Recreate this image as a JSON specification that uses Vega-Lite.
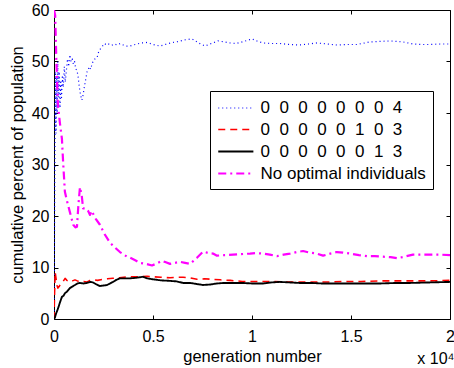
{
  "$schema": "https://vega.github.io/schema/vega-lite/v6.json",
  "width": 396,
  "height": 309,
  "autosize": {"type": "none"},
  "padding": {"left": 54, "top": 10, "right": 4, "bottom": 49},
  "background": "white",
  "config": {
    "font": "Liberation Sans",
    "view": {"stroke": "black", "strokeWidth": 1},
    "axis": {
      "domain": false,
      "grid": false,
      "tickColor": "black",
      "tickSize": -4,
      "tickWidth": 1,
      "labelColor": "black",
      "labelFont": "Liberation Sans",
      "labelFontSize": 16,
      "titleColor": "black",
      "titleFont": "Liberation Sans",
      "titleFontSize": 16.5,
      "titleFontWeight": "normal"
    }
  },
  "title": {
    "text": "x 10⁴",
    "orient": "bottom",
    "anchor": "end",
    "font": "Liberation Sans",
    "fontSize": 16,
    "fontWeight": "normal",
    "color": "black",
    "offset": -14
  },
  "data": {
    "values": [
      {"series": "B", "gen": 0, "pct": 0},
      {"series": "B", "gen": 20, "pct": 12},
      {"series": "B", "gen": 40, "pct": 28},
      {"series": "B", "gen": 60, "pct": 40},
      {"series": "B", "gen": 80, "pct": 48},
      {"series": "B", "gen": 100, "pct": 36},
      {"series": "B", "gen": 130, "pct": 47},
      {"series": "B", "gen": 160, "pct": 40},
      {"series": "B", "gen": 190, "pct": 50},
      {"series": "B", "gen": 220, "pct": 43},
      {"series": "B", "gen": 260, "pct": 48},
      {"series": "B", "gen": 300, "pct": 41},
      {"series": "B", "gen": 340, "pct": 46},
      {"series": "B", "gen": 380, "pct": 43},
      {"series": "B", "gen": 420, "pct": 47},
      {"series": "B", "gen": 470, "pct": 45},
      {"series": "B", "gen": 520, "pct": 49},
      {"series": "B", "gen": 570, "pct": 46},
      {"series": "B", "gen": 620, "pct": 48},
      {"series": "B", "gen": 680, "pct": 50.5},
      {"series": "B", "gen": 740, "pct": 49},
      {"series": "B", "gen": 800, "pct": 51.3},
      {"series": "B", "gen": 860, "pct": 50},
      {"series": "B", "gen": 920, "pct": 50.5},
      {"series": "B", "gen": 980, "pct": 49.5},
      {"series": "B", "gen": 1040, "pct": 50},
      {"series": "B", "gen": 1100, "pct": 48.5},
      {"series": "B", "gen": 1160, "pct": 48.3},
      {"series": "B", "gen": 1220, "pct": 47},
      {"series": "B", "gen": 1280, "pct": 45},
      {"series": "B", "gen": 1340, "pct": 43.5},
      {"series": "B", "gen": 1410, "pct": 42.5},
      {"series": "B", "gen": 1470, "pct": 43.5},
      {"series": "B", "gen": 1530, "pct": 45},
      {"series": "B", "gen": 1600, "pct": 46.5},
      {"series": "B", "gen": 1670, "pct": 48},
      {"series": "B", "gen": 1720, "pct": 48.3},
      {"series": "B", "gen": 1780, "pct": 49},
      {"series": "B", "gen": 1850, "pct": 48.5},
      {"series": "B", "gen": 1920, "pct": 49.5},
      {"series": "B", "gen": 2000, "pct": 50.3},
      {"series": "B", "gen": 2070, "pct": 50.5},
      {"series": "B", "gen": 2170, "pct": 50.7},
      {"series": "B", "gen": 2250, "pct": 51.8},
      {"series": "B", "gen": 2350, "pct": 52.5},
      {"series": "B", "gen": 2450, "pct": 53},
      {"series": "B", "gen": 2550, "pct": 53.5},
      {"series": "B", "gen": 2650, "pct": 53.2},
      {"series": "B", "gen": 2750, "pct": 53.4},
      {"series": "B", "gen": 2900, "pct": 53.1},
      {"series": "B", "gen": 3050, "pct": 53.4},
      {"series": "B", "gen": 3200, "pct": 53.2},
      {"series": "B", "gen": 3350, "pct": 53.5},
      {"series": "B", "gen": 3500, "pct": 53.2},
      {"series": "B", "gen": 3650, "pct": 53},
      {"series": "B", "gen": 3840, "pct": 53},
      {"series": "B", "gen": 4100, "pct": 53.3},
      {"series": "B", "gen": 4400, "pct": 53.6},
      {"series": "B", "gen": 4700, "pct": 53.7},
      {"series": "B", "gen": 5000, "pct": 53.3},
      {"series": "B", "gen": 5350, "pct": 53},
      {"series": "B", "gen": 5700, "pct": 53.4},
      {"series": "B", "gen": 6000, "pct": 53.7},
      {"series": "B", "gen": 6300, "pct": 53.9},
      {"series": "B", "gen": 6600, "pct": 54.2},
      {"series": "B", "gen": 6970, "pct": 54.4},
      {"series": "B", "gen": 7300, "pct": 53.6},
      {"series": "B", "gen": 7630, "pct": 53},
      {"series": "B", "gen": 7950, "pct": 53.5},
      {"series": "B", "gen": 8280, "pct": 54},
      {"series": "B", "gen": 8600, "pct": 53.8},
      {"series": "B", "gen": 8890, "pct": 53.6},
      {"series": "B", "gen": 9200, "pct": 53.5},
      {"series": "B", "gen": 9600, "pct": 53.9},
      {"series": "B", "gen": 10000, "pct": 54.4},
      {"series": "B", "gen": 10300, "pct": 53.9},
      {"series": "B", "gen": 10560, "pct": 53.6},
      {"series": "B", "gen": 11000, "pct": 53.5},
      {"series": "B", "gen": 11400, "pct": 53.5},
      {"series": "B", "gen": 11900, "pct": 53.3},
      {"series": "B", "gen": 12400, "pct": 53.2},
      {"series": "B", "gen": 12850, "pct": 53.4},
      {"series": "B", "gen": 13280, "pct": 53.6},
      {"series": "B", "gen": 13800, "pct": 53.4},
      {"series": "B", "gen": 14290, "pct": 53.2},
      {"series": "B", "gen": 14800, "pct": 53.3},
      {"series": "B", "gen": 15300, "pct": 53.3},
      {"series": "B", "gen": 15960, "pct": 53.8},
      {"series": "B", "gen": 16500, "pct": 53.9},
      {"series": "B", "gen": 16970, "pct": 54},
      {"series": "B", "gen": 17300, "pct": 53.9},
      {"series": "B", "gen": 17630, "pct": 53.8},
      {"series": "B", "gen": 18130, "pct": 53.4},
      {"series": "B", "gen": 18600, "pct": 53.3},
      {"series": "B", "gen": 18990, "pct": 53.3},
      {"series": "B", "gen": 19500, "pct": 53.4},
      {"series": "B", "gen": 20000, "pct": 53.4},

      {"series": "R", "gen": 0, "pct": 0},
      {"series": "R", "gen": 30, "pct": 5},
      {"series": "R", "gen": 60, "pct": 9.1},
      {"series": "R", "gen": 100, "pct": 8},
      {"series": "R", "gen": 150, "pct": 6.5},
      {"series": "R", "gen": 200, "pct": 6},
      {"series": "R", "gen": 260, "pct": 6.3},
      {"series": "R", "gen": 330, "pct": 6.8},
      {"series": "R", "gen": 450, "pct": 7.2},
      {"series": "R", "gen": 560, "pct": 7.9},
      {"series": "R", "gen": 650, "pct": 7.5},
      {"series": "R", "gen": 800, "pct": 7.2},
      {"series": "R", "gen": 930, "pct": 7.4},
      {"series": "R", "gen": 1060, "pct": 7.6},
      {"series": "R", "gen": 1180, "pct": 7.4},
      {"series": "R", "gen": 1310, "pct": 7.2},
      {"series": "R", "gen": 1500, "pct": 7.3},
      {"series": "R", "gen": 1670, "pct": 7.2},
      {"series": "R", "gen": 1820, "pct": 7.5},
      {"series": "R", "gen": 1970, "pct": 7.6},
      {"series": "R", "gen": 2200, "pct": 7.5},
      {"series": "R", "gen": 2470, "pct": 7.7},
      {"series": "R", "gen": 2700, "pct": 7.8},
      {"series": "R", "gen": 2980, "pct": 7.9},
      {"series": "R", "gen": 3300, "pct": 8},
      {"series": "R", "gen": 3690, "pct": 8.2},
      {"series": "R", "gen": 4000, "pct": 8.2},
      {"series": "R", "gen": 4340, "pct": 8.2},
      {"series": "R", "gen": 4700, "pct": 8.3},
      {"series": "R", "gen": 5000, "pct": 8.2},
      {"series": "R", "gen": 5400, "pct": 8.1},
      {"series": "R", "gen": 5860, "pct": 8},
      {"series": "R", "gen": 6200, "pct": 8.1},
      {"series": "R", "gen": 6520, "pct": 8.1},
      {"series": "R", "gen": 6870, "pct": 8},
      {"series": "R", "gen": 7220, "pct": 7.7},
      {"series": "R", "gen": 7600, "pct": 7.8},
      {"series": "R", "gen": 8030, "pct": 7.7},
      {"series": "R", "gen": 8400, "pct": 7.6},
      {"series": "R", "gen": 8900, "pct": 7.5},
      {"series": "R", "gen": 9500, "pct": 7.3},
      {"series": "R", "gen": 10200, "pct": 7.3},
      {"series": "R", "gen": 11000, "pct": 7.3},
      {"series": "R", "gen": 11800, "pct": 7.2},
      {"series": "R", "gen": 12500, "pct": 7.2},
      {"series": "R", "gen": 13300, "pct": 7.2},
      {"series": "R", "gen": 14000, "pct": 7.2},
      {"series": "R", "gen": 14800, "pct": 7.3},
      {"series": "R", "gen": 15500, "pct": 7.3},
      {"series": "R", "gen": 16500, "pct": 7.4},
      {"series": "R", "gen": 17300, "pct": 7.4},
      {"series": "R", "gen": 18200, "pct": 7.4},
      {"series": "R", "gen": 19000, "pct": 7.4},
      {"series": "R", "gen": 20000, "pct": 7.5},

      {"series": "K", "gen": 0, "pct": 0},
      {"series": "K", "gen": 50, "pct": 0.3},
      {"series": "K", "gen": 100, "pct": 1},
      {"series": "K", "gen": 200, "pct": 2},
      {"series": "K", "gen": 300, "pct": 3.2},
      {"series": "K", "gen": 400, "pct": 4.3},
      {"series": "K", "gen": 480, "pct": 4.5},
      {"series": "K", "gen": 550, "pct": 5},
      {"series": "K", "gen": 650, "pct": 5.3},
      {"series": "K", "gen": 800, "pct": 6},
      {"series": "K", "gen": 930, "pct": 6.3},
      {"series": "K", "gen": 1060, "pct": 6.6},
      {"series": "K", "gen": 1180, "pct": 6.9},
      {"series": "K", "gen": 1310, "pct": 7},
      {"series": "K", "gen": 1500, "pct": 6.9},
      {"series": "K", "gen": 1670, "pct": 7},
      {"series": "K", "gen": 1820, "pct": 7.2},
      {"series": "K", "gen": 1970, "pct": 7.1},
      {"series": "K", "gen": 2150, "pct": 6.7},
      {"series": "K", "gen": 2320, "pct": 6.4},
      {"series": "K", "gen": 2500, "pct": 6.5},
      {"series": "K", "gen": 2680, "pct": 6.6},
      {"series": "K", "gen": 2830, "pct": 6.9},
      {"series": "K", "gen": 2980, "pct": 7.2},
      {"series": "K", "gen": 3150, "pct": 7.6},
      {"series": "K", "gen": 3330, "pct": 7.9},
      {"series": "K", "gen": 3600, "pct": 7.9},
      {"series": "K", "gen": 3840, "pct": 7.9},
      {"series": "K", "gen": 4150, "pct": 8},
      {"series": "K", "gen": 4500, "pct": 8.2},
      {"series": "K", "gen": 4700, "pct": 7.9},
      {"series": "K", "gen": 5000, "pct": 7.7},
      {"series": "K", "gen": 5400, "pct": 7.5},
      {"series": "K", "gen": 5860, "pct": 7.4},
      {"series": "K", "gen": 6200, "pct": 7.3},
      {"series": "K", "gen": 6520, "pct": 7},
      {"series": "K", "gen": 6870, "pct": 7},
      {"series": "K", "gen": 7200, "pct": 6.8},
      {"series": "K", "gen": 7530, "pct": 6.6},
      {"series": "K", "gen": 7900, "pct": 6.7},
      {"series": "K", "gen": 8230, "pct": 6.9},
      {"series": "K", "gen": 8600, "pct": 7},
      {"series": "K", "gen": 9040, "pct": 7},
      {"series": "K", "gen": 9500, "pct": 7},
      {"series": "K", "gen": 10000, "pct": 6.9},
      {"series": "K", "gen": 10560, "pct": 6.9},
      {"series": "K", "gen": 11000, "pct": 7.1},
      {"series": "K", "gen": 11400, "pct": 7.2},
      {"series": "K", "gen": 11900, "pct": 7.1},
      {"series": "K", "gen": 12400, "pct": 7},
      {"series": "K", "gen": 13000, "pct": 7},
      {"series": "K", "gen": 13500, "pct": 6.9},
      {"series": "K", "gen": 14300, "pct": 6.9},
      {"series": "K", "gen": 15000, "pct": 6.9},
      {"series": "K", "gen": 15800, "pct": 6.9},
      {"series": "K", "gen": 16500, "pct": 6.9},
      {"series": "K", "gen": 17300, "pct": 7},
      {"series": "K", "gen": 18000, "pct": 7},
      {"series": "K", "gen": 19000, "pct": 7.1},
      {"series": "K", "gen": 20000, "pct": 7.2},

      {"series": "M", "gen": 0, "pct": 60},
      {"series": "M", "gen": 60, "pct": 59},
      {"series": "M", "gen": 120, "pct": 50},
      {"series": "M", "gen": 200, "pct": 41.5},
      {"series": "M", "gen": 300, "pct": 38},
      {"series": "M", "gen": 400, "pct": 35},
      {"series": "M", "gen": 460, "pct": 30.5},
      {"series": "M", "gen": 550, "pct": 24.7},
      {"series": "M", "gen": 650, "pct": 23},
      {"series": "M", "gen": 800, "pct": 20.8},
      {"series": "M", "gen": 970, "pct": 18.3},
      {"series": "M", "gen": 1080, "pct": 17.8},
      {"series": "M", "gen": 1160, "pct": 17.9},
      {"series": "M", "gen": 1230, "pct": 22},
      {"series": "M", "gen": 1310, "pct": 25.6},
      {"series": "M", "gen": 1400, "pct": 24},
      {"series": "M", "gen": 1470, "pct": 21.5},
      {"series": "M", "gen": 1600, "pct": 21.5},
      {"series": "M", "gen": 1720, "pct": 21},
      {"series": "M", "gen": 1820, "pct": 20.2},
      {"series": "M", "gen": 1900, "pct": 21},
      {"series": "M", "gen": 2100, "pct": 19.5},
      {"series": "M", "gen": 2320, "pct": 18.3},
      {"series": "M", "gen": 2550, "pct": 16.5},
      {"series": "M", "gen": 2830, "pct": 14.8},
      {"series": "M", "gen": 3100, "pct": 13.8},
      {"series": "M", "gen": 3330, "pct": 13},
      {"series": "M", "gen": 3690, "pct": 12.1},
      {"series": "M", "gen": 3840, "pct": 11.9},
      {"series": "M", "gen": 4100, "pct": 11.4},
      {"series": "M", "gen": 4340, "pct": 10.9},
      {"series": "M", "gen": 4650, "pct": 10.7},
      {"series": "M", "gen": 4950, "pct": 10.4},
      {"series": "M", "gen": 5200, "pct": 10.8},
      {"series": "M", "gen": 5450, "pct": 11.3},
      {"series": "M", "gen": 5650, "pct": 11},
      {"series": "M", "gen": 5860, "pct": 10.7},
      {"series": "M", "gen": 6100, "pct": 10.9},
      {"series": "M", "gen": 6360, "pct": 11.1},
      {"series": "M", "gen": 6620, "pct": 10.9},
      {"series": "M", "gen": 6870, "pct": 10.7},
      {"series": "M", "gen": 7220, "pct": 11.9},
      {"series": "M", "gen": 7530, "pct": 13.1},
      {"series": "M", "gen": 7800, "pct": 12.8},
      {"series": "M", "gen": 8030, "pct": 12.7},
      {"series": "M", "gen": 8230, "pct": 12.3},
      {"series": "M", "gen": 8600, "pct": 12.4},
      {"series": "M", "gen": 9040, "pct": 12.5},
      {"series": "M", "gen": 9450, "pct": 12.6},
      {"series": "M", "gen": 9900, "pct": 12.7},
      {"series": "M", "gen": 10200, "pct": 12.8},
      {"series": "M", "gen": 10560, "pct": 12.7},
      {"series": "M", "gen": 10900, "pct": 12.5},
      {"series": "M", "gen": 11260, "pct": 12.2},
      {"series": "M", "gen": 11600, "pct": 12.5},
      {"series": "M", "gen": 11920, "pct": 12.7},
      {"series": "M", "gen": 12250, "pct": 13},
      {"series": "M", "gen": 12580, "pct": 13.2},
      {"series": "M", "gen": 12900, "pct": 12.9},
      {"series": "M", "gen": 13280, "pct": 12.7},
      {"series": "M", "gen": 13590, "pct": 12.3},
      {"series": "M", "gen": 13950, "pct": 12.7},
      {"series": "M", "gen": 14290, "pct": 13},
      {"series": "M", "gen": 14600, "pct": 12.9},
      {"series": "M", "gen": 14950, "pct": 12.7},
      {"series": "M", "gen": 15400, "pct": 12.4},
      {"series": "M", "gen": 15810, "pct": 12.2},
      {"series": "M", "gen": 16200, "pct": 12.2},
      {"series": "M", "gen": 16620, "pct": 12.1},
      {"series": "M", "gen": 17000, "pct": 12},
      {"series": "M", "gen": 17320, "pct": 11.8},
      {"series": "M", "gen": 17700, "pct": 12.1},
      {"series": "M", "gen": 18130, "pct": 12.5},
      {"series": "M", "gen": 18550, "pct": 12.5},
      {"series": "M", "gen": 18990, "pct": 12.5},
      {"series": "M", "gen": 19500, "pct": 12.5},
      {"series": "M", "gen": 20000, "pct": 12.4}
    ]
  },
  "layer": [
    {
      "mark": {"type": "line", "strokeJoin": "round", "clip": true},
      "encoding": {
        "x": {
          "field": "gen", "type": "quantitative",
          "scale": {"domain": [0, 20000], "nice": false, "zero": false},
          "axis": {
            "orient": "bottom",
            "values": [0, 5000, 10000, 15000, 20000],
            "labelExpr": "datum.value / 10000",
            "labelPadding": 13,
            "labelFlush": false,
            "title": "generation number",
            "titlePadding": 4
          }
        },
        "y": {
          "field": "pct", "type": "quantitative",
          "scale": {"domain": [0, 60], "nice": false},
          "axis": {
            "orient": "left",
            "values": [0, 10, 20, 30, 40, 50, 60],
            "labelPadding": 9,
            "title": "cumulative percent of population",
            "titlePadding": 6
          }
        },
        "color": {
          "field": "series", "type": "nominal",
          "scale": {
            "domain": ["B", "R", "K", "M"],
            "range": ["#0000ff", "#ff0000", "#000000", "#ff00ff"]
          },
          "legend": {
            "title": null,
            "orient": "none",
            "legendX": 156,
            "legendY": 81,
            "fillColor": "white",
            "strokeColor": "black",
            "padding": 7,
            "symbolType": "M-1,0H2.8",
            "symbolSize": 342,
            "symbolStrokeWidth": 2,
            "labelOffset": 22.5,
            "labelFont": "Liberation Sans",
            "labelFontSize": 17,
            "labelColor": "black",
            "labelLimit": 300,
            "rowPadding": 3,
            "labelExpr": "datum.value == 'B' ? '0\u00a0\u00a00\u00a0\u00a00\u00a0\u00a00\u00a0\u00a00\u00a0\u00a00\u00a0\u00a00\u00a0\u00a04' : datum.value == 'R' ? '0\u00a0\u00a00\u00a0\u00a00\u00a0\u00a00\u00a0\u00a00\u00a0\u00a01\u00a0\u00a00\u00a0\u00a03' : datum.value == 'K' ? '0\u00a0\u00a00\u00a0\u00a00\u00a0\u00a00\u00a0\u00a00\u00a0\u00a00\u00a0\u00a01\u00a0\u00a03' : 'No optimal individuals'"
          }
        },
        "strokeDash": {
          "field": "series", "type": "nominal",
          "scale": {
            "domain": ["B", "R", "K", "M"],
            "range": [[1, 3], [7, 5], [1, 0], [8, 4, 2, 4]]
          }
        },
        "strokeWidth": {
          "field": "series", "type": "nominal",
          "scale": {
            "domain": ["B", "R", "K", "M"],
            "range": [1.2, 2.2, 2.2, 2.2]
          },
          "legend": null
        }
      }
    },
    {
      "mark": {"type": "point", "opacity": 0},
      "encoding": {
        "x": {
          "field": "gen", "type": "quantitative",
          "axis": {
            "orient": "top",
            "values": [0, 5000, 10000, 15000, 20000],
            "labels": false,
            "title": null
          }
        },
        "y": {
          "field": "pct", "type": "quantitative",
          "axis": {
            "orient": "right",
            "values": [0, 10, 20, 30, 40, 50, 60],
            "labels": false,
            "title": null
          }
        }
      }
    }
  ],
  "resolve": {"axis": {"x": "independent", "y": "independent"}}
}
